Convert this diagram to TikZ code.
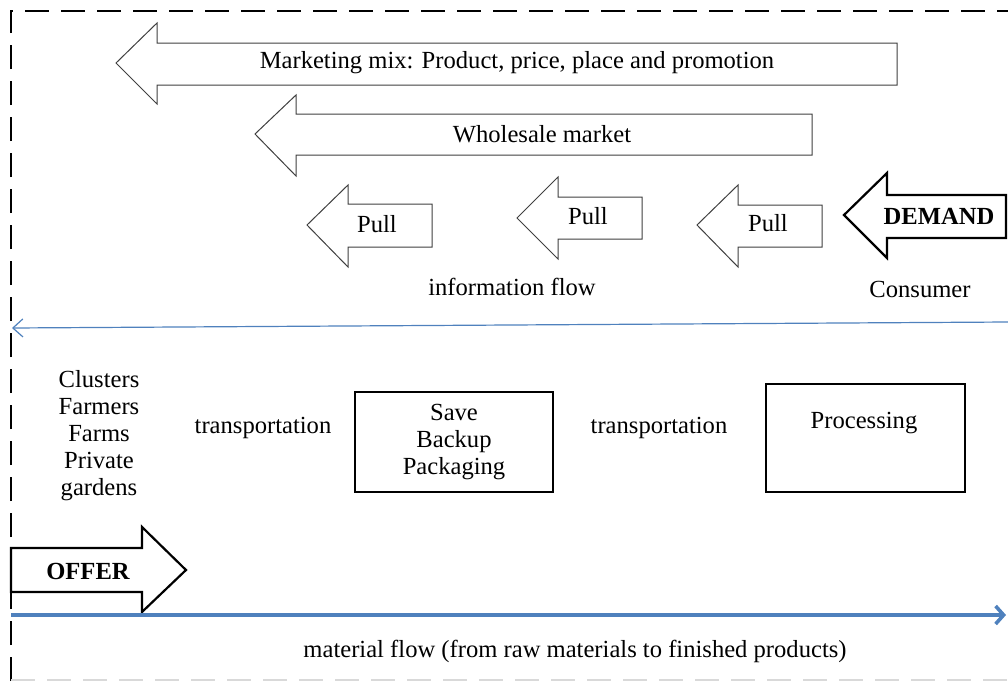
\documentclass[tikz,border=0pt]{standalone}
\usepackage{fontspec}
\setmainfont{Liberation Serif}
\usetikzlibrary{arrows.meta}
\definecolor{flowblue}{RGB}{79,129,189}

\begin{document}
\begin{tikzpicture}[x=0.5pt,y=-0.5pt,
	blockarrow/.style={draw=black!75,line width=0.5pt,fill=white},
	bigarrow/.style={draw=black,line width=1.1pt,fill=white},
	frame/.style={line width=1pt,dash pattern=on 12pt off 6pt},
	lbl/.style={font=\fontsize{12.3}{13.5}\selectfont,inner sep=0pt,align=center}]

	\useasboundingbox (0,0) rectangle (1008,681);

	% dashed frame
	\draw [frame] (11,681) -- (11,11) -- (1008,11);
	\draw [frame,black!15] (11,680) -- (1008,680);

	% information side
	\draw [blockarrow] (116,63) -- (157,23) -- (157,43) -- (897,43) -- (897,85) -- (157,85) -- (157,104) -- cycle;
	\node [lbl] (mix) at (517,63) {Marketing mix: Product, price, place and promotion};
	\draw [blockarrow] (255,134) -- (296,95) -- (296,114) -- (812,114) -- (812,155) -- (296,155) -- (296,176) -- cycle;
	\node [lbl] (wholesale) at (542,134) {Wholesale market};

	\draw [blockarrow] (307,225) -- (348,185) -- (348,204) -- (432,204) -- (432,247) -- (348,247) -- (348,267) -- cycle;
	\node [lbl] (pulla) at (377,224) {Pull};
	\draw [blockarrow] (517,218) -- (558,177) -- (558,197) -- (642,197) -- (642,239) -- (558,239) -- (558,259) -- cycle;
	\node [lbl] (pullb) at (588,216) {Pull};
	\draw [blockarrow] (697,225) -- (738,185) -- (738,205) -- (822,205) -- (822,247) -- (738,247) -- (738,267) -- cycle;
	\node [lbl] (pullc) at (768,223) {Pull};

	\draw [bigarrow] (844,215) -- (887,173) -- (887,195) -- (1006,195) -- (1006,238) -- (887,238) -- (887,258) -- cycle;
	\node [lbl,font=\fontsize{12.3}{13.5}\selectfont\bfseries] (demand) at (939,216) {DEMAND};

	\node [lbl] (info) at (512,287) {information flow};
	\node [lbl] (consumer) at (920,289) {Consumer};

	\coordinate (infoR) at (1008,322);
	\coordinate (infoL) at (12,328);
	\draw [flowblue,line width=0.6pt,-{Straight Barb[length=5pt,width=9pt]}] (infoR) -- (infoL);

	% material side
	\node [lbl] (growers) at (99,436)
		{Clusters\\Farmers\\Farms\\Private\\gardens};
	\node [lbl] (transa) at (263,428) {transportation};
	\node [draw,line width=0.6pt,minimum width=99pt,minimum height=50pt] (store) at (454,442) {};
	\node [lbl] at (store) {Save\\Backup\\Packaging};
	\node [lbl] (transb) at (659,428) {transportation};
	\node [draw,line width=0.6pt,minimum width=99.5pt,minimum height=54pt] (process) at (865.5,438) {};
	\node [lbl] (proclbl) at (864,423) {Processing};

	\draw [bigarrow] (11,548) -- (142,548) -- (142,527) -- (186,570) -- (142,612) -- (142,592) -- (11,592) -- cycle;
	\node [lbl,font=\fontsize{12.3}{13.5}\selectfont\bfseries] (offer) at (88,571) {OFFER};

	\coordinate (matL) at (11,615);
	\coordinate (matR) at (1006,615);
	\draw [flowblue,line width=1.8pt,-{Straight Barb[length=4pt,width=9pt]}] (matL) -- (matR);
	\node [lbl] (material) at (575,651) {material flow (from raw materials to finished products)};

\end{tikzpicture}
\end{document}
